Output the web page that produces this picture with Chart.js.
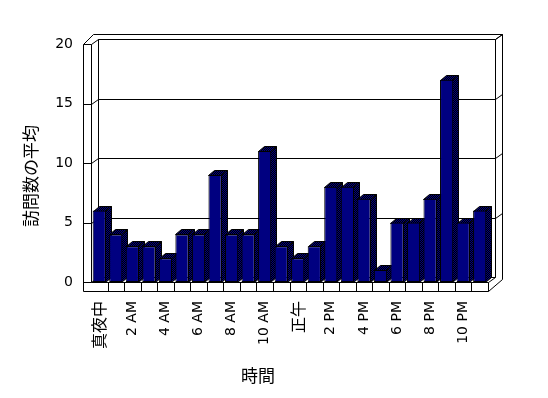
<!DOCTYPE html>
<html>
<head>
<meta charset="utf-8">
<script src="https://cdn.jsdelivr.net/npm/chart.js@4.4.0/dist/chart.umd.min.js"></script>
<style>
    html, body { margin: 0; padding: 0; background: #fff; }
    #wrap { width: 548px; height: 398px; }
</style>
</head>
<body>
<div id="wrap"><canvas id="chart"></canvas></div>
<script>
// Données
const hours = [
    '真夜中', '1 AM', '2 AM', '3 AM', '4 AM', '5 AM', '6 AM', '7 AM', '8 AM', '9 AM', '10 AM', '11 AM',
    '正午', '1 PM', '2 PM', '3 PM', '4 PM', '5 PM', '6 PM', '7 PM', '8 PM', '9 PM', '10 PM', '11 PM',
];
const visits = [6, 4, 3, 3, 2, 4, 4, 9, 4, 4, 11, 3, 2, 3, 8, 8, 7, 1, 5, 5, 7, 17, 5, 6];
const yTicks = [0, 5, 10, 15, 20];
const xTitle = '時間';
const yTitle = '訪問数の平均';

const NAVY = '#000080';
const DEPTH = { x: 6, y: 5 };   // profondeur des barres
const WALL = { x: 7, y: 5 };    // décalage du mur du fond
const CJK = '"Noto Sans CJK JP", "Noto Sans CJK SC", sans-serif';
const LATIN = '"DejaVu Sans", "Noto Sans CJK JP", sans-serif';

const px = (v) => Math.round(v) + 0.5;

function ditherPattern(ctx) {
    const c = document.createElement('canvas');
    c.width = 2;
    c.height = 2;
    const g = c.getContext('2d');
    g.fillStyle = '#000000';
    g.fillRect(0, 0, 2, 2);
    g.fillStyle = NAVY;
    g.fillRect(0, 0, 1, 1);
    g.fillRect(1, 1, 1, 1);
    return ctx.createPattern(c, 'repeat');
}

function line(ctx, pts) {
    ctx.beginPath();
    pts.forEach(([x, y], i) => (i ? ctx.lineTo(px(x), px(y)) : ctx.moveTo(px(x), px(y))));
    ctx.stroke();
}

function poly(ctx, pts, fill) {
    ctx.beginPath();
    pts.forEach(([x, y], i) => (i ? ctx.lineTo(px(x), px(y)) : ctx.moveTo(px(x), px(y))));
    ctx.closePath();
    ctx.fillStyle = fill;
    ctx.fill();
    ctx.stroke();
}

// Murs, sol, quadrillage et faces 3D des barres
const box3d = {
    id: 'box3d',
    beforeDatasetsDraw(chart) {
        const { ctx, chartArea: a, scales } = chart;
        const L = a.left, R = a.right, T = a.top, B = a.bottom;
        const bl = L + WALL.x, br = R + WALL.x, bt = T - WALL.y, bb = B - WALL.y;

        ctx.save();
        ctx.strokeStyle = '#000';
        ctx.lineWidth = 1;

        // mur du fond + épaisseur
        line(ctx, [[bl, bb], [bl, bt], [br, bt], [br, bb]]);
        line(ctx, [[L - 8, T], [bl - 5, bt - WALL.y], [br + WALL.x, bt - WALL.y], [br + WALL.x, bb + 2]]);
        line(ctx, [[br, bt], [br + WALL.x, bt - WALL.y]]);
        line(ctx, [[bl, bb], [br, bb]]);

        // quadrillage sur le mur du fond
        yTicks.forEach((v) => {
            const yf = scales.y.getPixelForValue(v);
            const yb = yf - WALL.y;
            line(ctx, [[L - 8, yf], [L, yf], [bl, yb]]);
            if (v > 0) {
                line(ctx, [[bl, yb], [br, yb]]);
                line(ctx, [[br, yb], [br + WALL.x, yb - WALL.y]]);
            }
        });

        // mur gauche (face avant)
        line(ctx, [[L - 8, T], [L - 8, B + 9]]);
        line(ctx, [[L, T], [L, B]]);

        // sol
        line(ctx, [[L, B], [R, B], [br, bb]]);
        line(ctx, [[L - 8, B + 9], [R, B + 9], [br + WALL.x, bb + 2]]);
        line(ctx, [[R, B], [R, B + 9]]);
        const x = scales.x;
        for (let i = 1; i < hours.length; i++) {
            const xb = (x.getPixelForValue(i - 1) + x.getPixelForValue(i)) / 2;
            line(ctx, [[xb, B], [xb, B + 9]]);
        }

        // faces latérales et supérieures des barres, de gauche à droite
        const pattern = ditherPattern(ctx);
        chart.getDatasetMeta(0).data.forEach((bar) => {
            const left = bar.x - bar.width / 2;
            const right = bar.x + bar.width / 2 - 1;
            const top = bar.y;
            const base = bar.base;
            poly(ctx, [[right, top], [right + DEPTH.x, top - DEPTH.y], [right + DEPTH.x, base - DEPTH.y], [right, base]], pattern);
            poly(ctx, [[left, top], [left + DEPTH.x, top - DEPTH.y], [right + DEPTH.x, top - DEPTH.y], [right, top]], pattern);
        });
        ctx.restore();
    },
    afterDraw(chart) {
        const { ctx } = chart;
        ctx.save();
        ctx.fillStyle = '#000';
        ctx.font = '17px ' + CJK;
        ctx.textAlign = 'center';
        ctx.textBaseline = 'middle';
        ctx.fillText(xTitle, 258, 376);
        ctx.translate(31, 176);
        ctx.rotate(-Math.PI / 2);
        ctx.fillText(yTitle, 0, 0);
        ctx.restore();
    },
};

new Chart(document.getElementById('chart'), {
    type: 'bar',
    data: {
        labels: hours,
        datasets: [{
            data: visits,
            backgroundColor: NAVY,
            borderColor: '#000',
            borderWidth: 1,
            borderSkipped: false,
            barPercentage: 0.8,
            categoryPercentage: 1,
        }],
    },
    options: {
        responsive: true,
        maintainAspectRatio: false,
        animation: false,
        layout: { padding: { left: 0, right: 60, top: 44, bottom: 0 } },
        plugins: {
            legend: { display: false },
            tooltip: { enabled: false },
        },
        scales: {
            x: {
                grid: { display: false, drawTicks: false },
                border: { display: false },
                afterFit: (s) => { s.height = 116; },
                ticks: {
                    autoSkip: false,
                    minRotation: 90,
                    maxRotation: 90,
                    padding: 19,
                    color: '#000',
                    font: (c) => (/[^\x00-\x7f]/.test(hours[c.index] || '')
                        ? { family: CJK, size: 16 }
                        : { family: LATIN, size: 14 }),
                    callback: (value, index) => (index % 2 ? '' : hours[index]),
                },
            },
            y: {
                min: 0,
                max: 20,
                grid: { display: false, drawTicks: false },
                border: { display: false },
                afterFit: (s) => { s.width = 91; },
                afterBuildTicks: (s) => { s.ticks = yTicks.map((v) => ({ value: v })); },
                ticks: {
                    padding: 18,
                    color: '#000',
                    font: { family: LATIN, size: 14 },
                },
            },
        },
    },
    plugins: [box3d],
});
</script>
</body>
</html>
